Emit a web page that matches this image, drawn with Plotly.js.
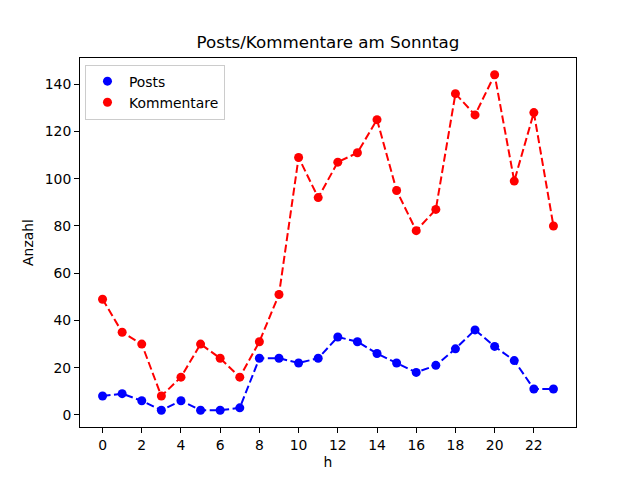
<!DOCTYPE html>
<html>
<head>
<meta charset="utf-8">
<script src="https://cdn.plot.ly/plotly-3.0.1.min.js"></script>
<style>
	html, body { margin: 0; padding: 0; background: #fff; }
	#chart { width: 640px; height: 480px; }
</style>
</head>
<body>
<div id="chart"></div>
<script>
// --- DATA ---
const hours = [0, 1, 2, 3, 4, 5, 6, 7, 8, 9, 10, 11, 12, 13, 14, 15, 16, 17, 18, 19, 20, 21, 22, 23];
const posts = [8, 9, 6, 2, 6, 2, 2, 3, 24, 24, 22, 24, 33, 31, 26, 22, 18, 21, 28, 36, 29, 23, 11, 11];
const kommentare = [49, 35, 30, 8, 16, 30, 24, 16, 31, 51, 109, 92, 107, 111, 125, 95, 78, 87, 136, 127, 144, 99, 128, 80];
const xTicks = [0, 2, 4, 6, 8, 10, 12, 14, 16, 18, 20, 22];
const yTicks = [0, 20, 40, 60, 80, 100, 120, 140];

const series = [
	{ name: 'Posts', y: posts, color: '#0000ff' },
	{ name: 'Kommentare', y: kommentare, color: '#ff0000' }
];

const traces = [];
// dashed lines (not in legend), then markers (legend shows dots only)
series.forEach(s => {
	traces.push({
		x: hours, y: s.y, type: 'scatter', mode: 'lines',
		line: { color: s.color, width: 2, dash: '8px,3.5px' },
		showlegend: false, hoverinfo: 'skip'
	});
});
series.forEach(s => {
	traces.push({
		x: hours, y: s.y, name: s.name,
		type: 'scatter', mode: 'markers',
		marker: { color: s.color, size: 9 }
	});
});

const axisBase = {
	showline: true, linecolor: '#000', linewidth: 1, mirror: true,
	ticks: 'outside', ticklen: 5, tickcolor: '#000', tickwidth: 1,
	showgrid: false, zeroline: false,
	tickfont: { size: 13.9, color: '#000' }
};

Plotly.newPlot('chart', traces, {
	width: 640, height: 480,
	paper_bgcolor: '#fff', plot_bgcolor: '#fff',
	font: { family: 'DejaVu Sans, sans-serif', color: '#000' },
	margin: { l: 80, r: 64, t: 58, b: 53 },
	title: {
		text: 'Posts/Kommentare am Sonntag', font: { size: 16.7 },
		xref: 'paper', x: 0.5, xanchor: 'center', y: 0.899, yanchor: 'bottom'
	},
	xaxis: Object.assign({}, axisBase, {
		range: [-1.15, 24.15], tickvals: xTicks,
		title: { text: 'h', font: { size: 13.9 }, standoff: 5 }
	}),
	yaxis: Object.assign({}, axisBase, {
		range: [-5.1, 151.1], tickvals: yTicks,
		title: { text: 'Anzahl', font: { size: 13.9 }, standoff: 7 }
	}),
	legend: {
		x: 0.01, y: 0.982, xanchor: 'left', yanchor: 'top',
		bgcolor: 'rgba(255,255,255,0.8)', bordercolor: '#cccccc', borderwidth: 1,
		font: { size: 13.9 }, itemwidth: 33
	},
	showlegend: true
}, { displayModeBar: false, staticPlot: true });
</script>
</body>
</html>
